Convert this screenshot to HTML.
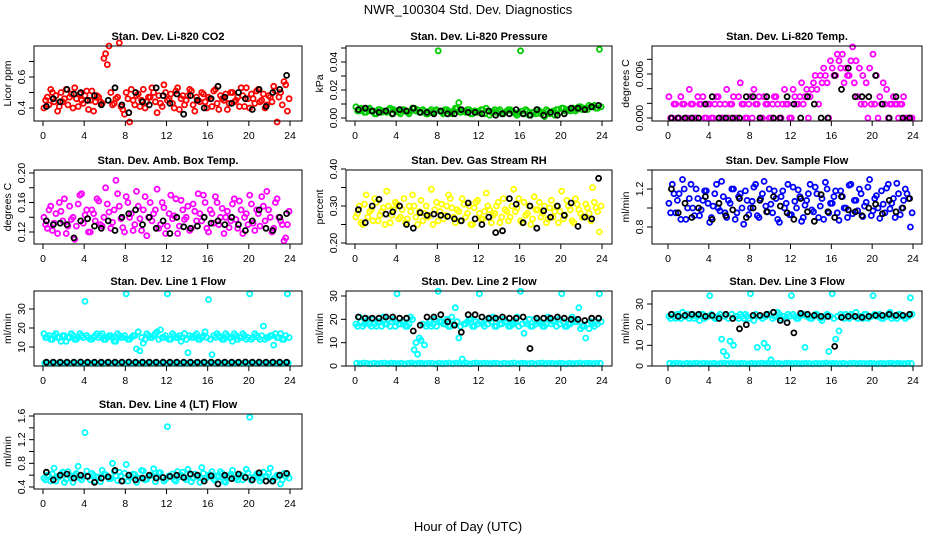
<!DOCTYPE html>
<html><head><meta charset="utf-8"><style>
html,body{margin:0;padding:0;background:#fff}
svg{display:block;font-family:"Liberation Sans",Arial,sans-serif}
</style></head><body>
<svg id="chart" width="936" height="540" viewBox="0 0 936 540">
<text x="468" y="14" text-anchor="middle" font-size="13">NWR_100304  Std. Dev. Diagnostics</text>
<text x="468" y="531" text-anchor="middle" font-size="13">Hour of Day (UTC)</text>
</svg>
<script>
// ---- data (colored series sampled every 20 min in two interleaved arrays, black series every 40 min) ----
const xTicks = [0,4,8,12,16,20,24];
const co2 = [40,47,52,44,38,50,46,42,49,53,41,45,48,39,51,44,47,43,75,80,42,46,82,39,50,31,45,48,41,52,44,47,50,37,43,55,45,49,40,53,46,42,48,51,38,45,50,44,47,41,52,39,46,49,43,50,45,41,48,53,40,46,51,44,49,42,47,54,31,50,57,38];
const co2b = [45,42,50,48,41,44,52,47,40,46,49,43,51,45,38,48,44,72,68,50,43,47,41,36,46,52,42,49,45,40,47,53,44,48,41,50,46,43,51,39,48,45,52,42,47,44,49,40,46,51,43,48,45,39,50,44,47,53,41,46,49,43,52,45,40,48,44,51,47,42,55,46];
const co2k = [41,46,44,52,49,50,45,48,42,45,53,42,37,50,44,42,53,48,43,49,36,48,45,40,46,54,47,43,50,46,39,52,41,50,52,61];
const pres = [8,5,6,4,7,5,3,6,5,4,7,6,5,3,6,4,5,7,6,4,5,3,6,5,48,4,6,5,3,7,11,5,4,6,3,5,4,6,7,2,5,4,6,3,5,6,4,2,48,3,5,2,4,6,3,1,5,4,2,6,7,5,6,7,5,8,6,7,9,8,7,49];
const presb = [5,7,4,6,5,3,6,4,5,6,3,5,4,6,5,3,7,5,4,6,3,5,4,6,5,3,6,4,5,7,4,5,6,3,5,4,6,3,5,4,6,5,3,4,6,5,3,4,5,6,2,4,3,5,4,6,3,5,6,4,7,6,5,7,6,8,7,6,8,9,7,8];
const presk = [6,7,5,4,5,3,6,5,7,4,4,3,5,3,3,6,4,4,3,5,2,3,3,6,3,2,6,2,4,2,3,7,7,6,8,9];
const temp = [29,0,19,0,19,0,39,19,0,19,29,0,19,0,29,19,0,39,19,29,0,48,19,0,29,39,19,0,29,19,0,29,19,0,39,19,0,29,19,48,29,0,39,58,19,48,58,0,68,58,78,87,68,58,97,78,68,58,48,68,87,58,29,48,39,19,29,19,19,29,0,0];
const tempb = [0,19,0,29,19,0,19,0,29,19,0,19,0,19,29,0,19,0,19,0,29,19,0,19,0,19,29,0,19,0,19,29,0,19,19,0,39,19,29,19,39,29,48,39,58,68,48,78,58,87,68,48,58,78,48,29,19,19,0,19,19,0,19,19,0,19,19,0,19,0,0,0];
const tempk = [0,0,0,0,0,19,29,0,0,0,0,29,29,0,29,0,0,29,19,0,29,19,0,0,58,39,68,29,29,29,58,19,0,29,0,0];
const amb = [140,125,155,132,118,148,165,128,137,110,158,172,143,120,150,135,162,128,180,147,133,190,155,126,168,140,122,175,138,150,115,160,145,178,130,153,128,170,142,118,163,137,155,125,148,172,135,160,120,145,168,130,152,140,126,158,137,162,118,145,170,132,150,128,155,175,140,125,165,135,108,130];
const ambb = [130,150,122,145,160,135,118,155,140,128,170,132,150,120,145,165,130,140,158,125,150,172,138,120,160,145,130,155,122,168,140,135,150,125,160,118,145,138,165,128,150,140,122,158,135,145,170,125,150,132,160,140,118,148,135,165,125,150,140,130,158,122,145,168,135,150,120,160,140,130,112,148];
const ambk = [135,130,132,130,112,135,138,128,125,135,122,140,145,150,130,140,125,135,118,140,127,125,128,140,132,135,130,140,130,122,135,150,125,122,140,145];
const rh = [270,300,250,330,285,260,310,275,295,340,255,290,305,270,320,265,285,300,250,315,280,270,345,290,260,305,275,330,295,255,285,320,270,300,250,310,280,265,335,290,275,300,255,320,285,270,345,295,260,310,280,250,325,290,270,300,265,315,285,255,340,275,300,260,320,290,270,305,280,350,295,230];
const rhb = [280,255,305,270,290,320,260,285,250,300,275,310,265,290,255,300,330,270,285,260,300,275,250,310,285,265,300,320,270,290,260,305,280,250,295,315,265,285,300,255,280,310,270,290,260,300,285,320,255,275,300,265,290,310,280,255,295,270,300,285,265,315,290,255,305,280,270,295,260,310,285,300];
const rhk = [290,255,300,318,278,284,300,250,240,282,275,278,275,272,265,260,308,265,250,270,228,233,320,305,255,300,240,287,270,300,275,308,245,270,265,375];
const sf = [105,125,95,115,130,88,110,100,120,92,108,118,85,102,125,97,112,90,105,120,95,115,83,108,100,122,92,110,128,96,104,118,88,112,100,125,93,107,119,86,103,115,98,122,90,110,127,95,105,118,87,112,100,124,94,108,120,91,106,130,97,113,89,104,121,99,110,126,93,108,115,80];
const sfb = [95,115,108,88,120,100,125,92,110,98,118,105,90,115,100,128,95,108,120,88,112,100,118,93,107,125,90,115,102,120,95,110,85,118,105,93,122,100,112,90,108,125,96,115,102,88,120,105,112,95,118,100,90,125,108,97,115,102,122,92,110,100,118,95,125,105,90,115,100,120,110,95];
const sfk = [120,95,105,90,100,112,88,105,92,98,110,90,100,108,96,112,102,95,88,110,96,86,114,96,90,112,98,96,92,100,104,94,108,96,100,110];
const l1 = [17,15,14,16,15,13,16,15,17,14,15,16,34,15,14,16,15,17,14,16,15,13,16,15,38,14,16,9,8,12,17,15,16,18,19,15,38,14,16,15,13,17,7,15,16,14,15,18,35,6,15,16,14,17,15,13,16,15,17,14,38,15,16,14,21,15,16,11,15,17,14,38];
const l1c = [15,16,14,17,15,16,13,15,16,14,17,15,16,14,15,17,16,14,15,16,13,17,15,16,14,15,16,18,15,14,16,15,17,14,15,16,14,17,15,16,15,14,16,15,17,14,16,15,14,16,17,15,14,16,15,17,14,15,16,15,14,17,15,16,14,15,16,17,15,14,16,15];
const l1b = [1.5,1.4,1.6,1.5,1.3,1.5,1.6,1.4,1.5,1.5,1.7,1.4,1.5,1.6,1.5,1.4,1.5,1.3,1.6,1.5,1.5,1.4,1.6,1.5,1.5,1.4,1.5,1.6,1.5,1.4,1.5,1.5,1.6,1.4,1.5,1.5,1.4,1.6,1.5,1.5,1.3,1.5,1.6,1.4,1.5,1.5,1.6,1.4,1.5,1.5,1.4,1.6,1.5,1.5,1.4,1.5,1.6,1.5,1.4,1.5,1.5,1.6,1.4,1.5,1.5,1.4,1.6,1.5,1.5,1.4,1.5,1.6];
const l1k = [2,2,2,2,2,2.1,2,2,2,2,2,2,2.1,2,2,2,2,2,2,2,2,2,2,2,2,2,2,2,2,2.1,2,2,2,2,2,2];
const l2 = [18,21,17,19,18,20,17,19,21,18,17,20,31,18,19,17,21,7,5,11,9,18,17,20,32,19,18,17,21,25,12,3,18,20,17,19,31,18,20,20,21,17,18,20,19,17,18,21,32,14,18,17,20,19,18,17,21,18,19,20,31,17,18,21,19,25,17,12,16,18,19,31];
const l2c = [17,19,18,20,17,18,19,17,18,20,19,17,18,19,17,18,20,10,12,18,17,19,18,17,19,18,20,17,18,19,17,18,19,20,17,18,19,17,18,19,17,20,18,19,17,18,19,17,18,19,20,17,18,19,17,18,20,19,17,18,19,17,18,20,19,16,17,18,19,17,18,19];
const l2b = [1.2,1.0,1.3,1.1,0.9,1.2,1.0,1.1,1.3,1.0,1.2,1.1,1.0,1.2,0.9,1.1,1.3,1.0,1.2,1.1,1.0,1.2,1.1,0.9,1.2,1.0,1.1,1.3,1.0,1.2,1.1,1.0,1.2,0.9,1.1,1.3,1.0,1.2,1.1,1.0,1.2,1.1,0.9,1.2,1.0,1.1,1.3,1.0,1.2,1.1,1.0,1.2,0.9,1.1,1.3,1.0,1.2,1.1,1.0,1.2,1.1,0.9,1.2,1.0,1.1,1.3,1.0,1.2,1.1,1.0,1.2,1.1];
const l2k = [21,20.5,20.5,20.5,21,21,20.5,20.5,15,17.5,21,21,22,19,17.5,14.5,22,22,21,20.5,20.5,21,20.5,20.5,21,7.5,20.5,20.5,20.5,21,20.5,20,20,19.5,20.5,20.5];
const l3 = [24,25,23,24,26,24,23,25,24,22,25,24,34,24,23,25,7,5,12,10,24,25,23,24,35,22,9,24,11,9,3,24,26,23,24,25,34,24,23,25,9,24,23,25,24,22,24,7,35,13,17,24,25,23,24,26,24,23,25,24,34,24,25,23,24,26,24,23,25,24,24,33];
const l3c = [23,24,25,23,24,25,24,23,24,25,23,24,25,23,24,13,24,23,25,24,23,24,25,23,24,25,24,23,24,25,23,24,25,24,23,24,25,23,24,25,24,23,24,25,23,24,25,24,23,24,25,23,24,25,24,23,24,25,23,24,25,24,23,24,25,23,24,25,24,23,24,25];
const l3b = [1.3,1.1,1.4,1.2,1.0,1.3,1.1,1.2,1.4,1.1,1.3,1.2,1.1,1.3,1.0,1.2,1.4,1.1,1.3,1.2,1.1,1.3,1.2,1.0,1.3,1.1,1.2,1.4,1.1,1.3,1.2,1.1,1.3,1.0,1.2,1.4,1.1,1.3,1.2,1.1,1.3,1.2,1.0,1.3,1.1,1.2,1.4,1.1,1.3,1.2,1.1,1.3,1.0,1.2,1.4,1.1,1.3,1.2,1.1,1.3,1.2,1.0,1.3,1.1,1.2,1.4,1.1,1.3,1.2,1.1,1.3,1.2];
const l3k = [25,24,24.5,25,25,24,24.5,23,25,23,18,20,24.5,24.5,25,26,22,21,16,25.5,25,24.5,24,24,9.5,23.5,24,24,23.5,24,24.5,24.5,25,24.5,24.5,25];
const l4 = [55,60,50,72,58,62,48,66,55,60,75,52,132,58,63,50,57,68,61,54,80,59,65,50,78,56,62,48,55,67,53,60,71,57,64,50,142,58,52,66,60,55,70,49,62,58,73,54,60,66,51,57,63,48,59,68,55,61,52,70,158,56,62,50,65,58,72,54,60,45,63,61];
const l4b = [52,58,62,50,57,65,53,60,48,63,55,58,67,52,60,56,49,62,58,54,66,51,59,63,50,57,61,55,68,52,58,60,49,64,56,53,59,62,50,57,65,52,60,55,58,48,63,56,61,53,59,66,50,57,62,55,52,60,58,64,51,57,61,54,58,63,50,56,60,52,58,55];
const l4k = [65,52,60,62,55,60,58,48,55,57,68,50,60,52,55,60,55,56,58,60,56,62,60,50,59,45,60,54,62,56,52,64,50,50,60,63];

const NS = 'http://www.w3.org/2000/svg';
const svg = document.getElementById('chart');
function mk(tag, attrs, parent){ const e=document.createElementNS(NS,tag); for(const k in attrs) e.setAttribute(k,attrs[k]); (parent||svg).appendChild(e); return e; }

const cols = [{x0:43,x24:290,l:34,r:302},{x0:355,x24:602,l:346,r:612},{x0:668,x24:913,l:652,r:922}];
const rows = [{t:46,b:121},{t:170,b:244},{t:291,b:366},{t:414,b:489}];

const panels = [
 {name:'co2',title:'Stan. Dev. Li-820 CO2',ylab:'Licor ppm',c:0,r:0,v1:0.4,p1:108,v2:0.6,p2:77,ticks:[0.4,0.5,0.6,0.7],labels:['0.4','','0.6',''],series:[[co2,0.01,'#ff0000',0.25],[co2b,0.01,'#ff0000',0.75]],black:[co2k,0.01]},
 {name:'pressure',title:'Stan. Dev. Li-820 Pressure',ylab:'kPa',c:1,r:0,v1:0,p1:118,v2:0.04,p2:62,ticks:[0,0.01,0.02,0.03,0.04,0.05],labels:['0.00','','0.02','','0.04',''],series:[[pres,0.001,'#00cd00',0.25],[presb,0.001,'#00cd00',0.75]],black:[presk,0.001]},
 {name:'temp',title:'Stan. Dev. Li-820 Temp.',ylab:'degrees C',c:2,r:0,v1:0,p1:118,v2:0.006,p2:74,ticks:[0,0.002,0.004,0.006,0.008],labels:['0.000','','','0.006',''],series:[[temp,0.0001,'#ff00ff',0.25],[tempb,0.0001,'#ff00ff',0.75]],black:[tempk,0.0001]},
 {name:'amb-box-temp',title:'Stan. Dev. Amb. Box Temp.',ylab:'degrees C',c:0,r:1,v1:0.12,p1:232,v2:0.20,p2:173,ticks:[0.12,0.14,0.16,0.18,0.20],labels:['0.12','','0.16','','0.20'],series:[[amb,0.001,'#ff00ff',0.25],[ambb,0.001,'#ff00ff',0.75]],black:[ambk,0.001]},
 {name:'gas-stream-rh',title:'Stan. Dev. Gas Stream RH',ylab:'percent',c:1,r:1,v1:0.2,p1:243,v2:0.4,p2:169,ticks:[0.2,0.25,0.3,0.35,0.4],labels:['0.20','','0.30','','0.40'],series:[[rh,0.001,'#ffff00',0.25],[rhb,0.001,'#ffff00',0.75]],black:[rhk,0.001]},
 {name:'sample-flow',title:'Stan. Dev. Sample Flow',ylab:'ml/min',c:2,r:1,v1:0.8,p1:227,v2:1.2,p2:189,ticks:[0.8,1.0,1.2,1.4],labels:['0.8','','1.2',''],series:[[sf,0.01,'#0000ff',0.25],[sfb,0.01,'#0000ff',0.75]],black:[sfk,0.01]},
 {name:'line1-flow',title:'Stan. Dev. Line 1 Flow',ylab:'ml/min',c:0,r:2,v1:0,p1:366,v2:30,p2:309,ticks:[10,20,30],labels:['10','20','30'],series:[[l1,1,'#00ffff',0.25],[l1c,1,'#00ffff',0.75],[l1b,1,'#00ffff',0.5]],black:[l1k,1]},
 {name:'line2-flow',title:'Stan. Dev. Line 2 Flow',ylab:'ml/min',c:1,r:2,v1:0,p1:366,v2:30,p2:296,ticks:[0,10,20,30],labels:['0','10','20','30'],series:[[l2,1,'#00ffff',0.25],[l2c,1,'#00ffff',0.75],[l2b,1,'#00ffff',0.5]],black:[l2k,1]},
 {name:'line3-flow',title:'Stan. Dev. Line 3 Flow',ylab:'ml/min',c:2,r:2,v1:0,p1:366,v2:30,p2:304,ticks:[0,10,20,30],labels:['0','10','20','30'],series:[[l3,1,'#00ffff',0.25],[l3c,1,'#00ffff',0.75],[l3b,1,'#00ffff',0.5]],black:[l3k,1]},
 {name:'line4-flow',title:'Stan. Dev. Line 4 (LT) Flow',ylab:'ml/min',c:0,r:3,v1:0.4,p1:487,v2:1.6,p2:416,ticks:[0.4,0.6,0.8,1.0,1.2,1.4,1.6],labels:['0.4','','0.8','','1.2','','1.6'],series:[[l4,0.01,'#00ffff',0.25],[l4b,0.01,'#00ffff',0.75]],black:[l4k,0.01]}
];

panels.forEach(p=>{
  const C=cols[p.c], R=rows[p.r];
  const g=mk('g',{});
  
  
  const xs = h => C.x0 + (C.x24-C.x0)*h/24;
  const ys = v => p.p1 + (p.p2-p.p1)*(v-p.v1)/(p.v2-p.v1);
  const t=mk('text',{x:(C.l+C.r)/2,y:R.t-6,'text-anchor':'middle','font-size':'11','font-weight':'bold'},g);
  t.textContent=p.title;
  
  
  const yl=mk('text',{x:0,y:0,'text-anchor':'middle','font-size':'10.5',transform:`translate(${C.l-23},${(R.t+R.b)/2}) rotate(-90)`},g);
  yl.textContent=p.ylab;
  
  
  const pts=mk('g',{fill:'none','stroke-width':'1.8'},g);
  
  
  const draw=(arr,scale,color,off)=>{
    arr.forEach((v,i)=>{
      const h=(i+off)*24/arr.length;
      const c=mk('circle',{cx:xs(h).toFixed(1),cy:ys(v*scale).toFixed(1),r:'2.5',stroke:color},pts);
      
      
    });
  };
  p.series.forEach(s=>draw(s[0],s[1],s[2],s[3]));
  draw(p.black[0],p.black[1],'#000',0.5);
  const b=mk('rect',{x:C.l,y:R.t,width:C.r-C.l,height:R.b-R.t,fill:'none',stroke:'#000','stroke-width':'1'},g);
  
  
  mk('line',{x1:xs(0),x2:xs(24),y1:R.b,y2:R.b,stroke:'#000'},g);
  xTicks.forEach(h=>{
    mk('line',{x1:xs(h),x2:xs(h),y1:R.b,y2:R.b+5,stroke:'#000'},g);
    const tx=mk('text',{x:xs(h),y:R.b+18,'text-anchor':'middle','font-size':'10.5'},g);
    tx.textContent=h;
    
    
  });
  p.ticks.forEach((v,i)=>{
    const y=ys(v);
    mk('line',{x1:C.l-5,x2:C.l,y1:y,y2:y,stroke:'#000'},g);
    if(p.labels[i]){
      const ty=mk('text',{x:0,y:0,'text-anchor':'middle','font-size':'10.5',transform:`translate(${C.l-9},${y}) rotate(-90)`},g);
      ty.textContent=p.labels[i];
      
      
    }
  });
});
</script>
</body></html>
